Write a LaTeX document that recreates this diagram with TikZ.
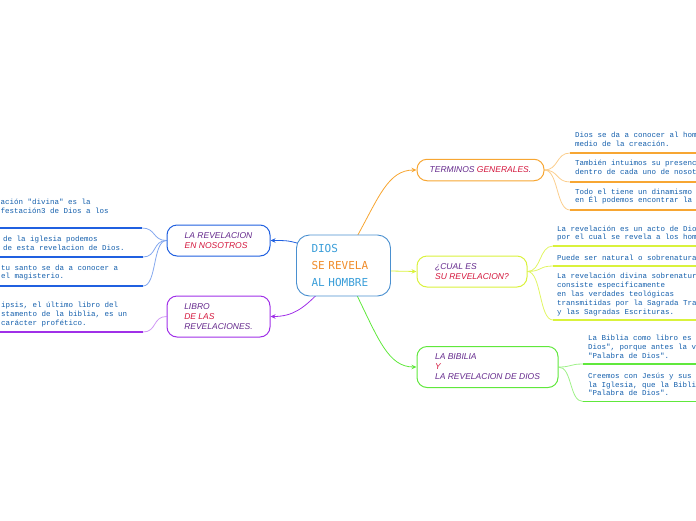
\documentclass[tikz,border=0pt]{standalone}
\usepackage{fontspec}
\setmainfont{Liberation Sans}
\newfontfamily\monofnt{Liberation Mono}
\newfontfamily\pixfnt{DejaVu Sans Mono}
\usetikzlibrary{arrows.meta,backgrounds}
\definecolor{cblue}{RGB}{74,144,208}
\definecolor{ctxtblue}{RGB}{58,158,217}
\definecolor{corange}{RGB}{240,140,42}
\definecolor{cpurple}{RGB}{100,40,140}
\definecolor{cred}{RGB}{212,22,60}
\definecolor{subtxt}{RGB}{20,95,172}
\definecolor{lorange}{RGB}{247,166,50}
\definecolor{lyellow}{RGB}{218,242,60}
\definecolor{lgreen}{RGB}{96,232,60}
\definecolor{lblue}{RGB}{32,96,224}
\definecolor{lpurple}{RGB}{160,48,232}
\tikzset{
  topic/.style={draw, line width=1pt, rounded corners=10pt, fill=white, align=left,
    font=\itshape\fontsize{8.5}{10}\selectfont, text=cpurple, inner sep=0pt},
  subtext/.style={anchor=west, align=left, font=\monofnt\fontsize{7.5}{8.8}\selectfont,
    text=subtxt, inner sep=0pt},
  uline/.style={line width=1.7pt},
  conn/.style={line width=0.8pt},
  mainarrow/.style={line width=0.8pt, -{Stealth[length=5pt,width=4.5pt]}}
}
\begin{document}
\begin{tikzpicture}[x=1pt,y=-1pt]
\useasboundingbox (0,0) rectangle (696,520);

% central node
\node[draw=cblue, line width=0.9pt, rounded corners=13pt, fill=white,
  minimum width=94pt, minimum height=61pt, align=left, text width=64pt, inner sep=0pt,
  font=\pixfnt\fontsize{11}{16.6}\selectfont] (C) at (343.5,265.5)
  {\textcolor{ctxtblue}{DIOS}\\\textcolor{corange}{SE REVELA}\\\textcolor{ctxtblue}{AL HOMBRE}};

% topics
\node[topic, draw=lorange, minimum width=127pt, minimum height=21.5pt] (T1) at (480.5,170)
  {TERMINOS \textcolor{cred}{GENERALES}.};
\node[topic, draw=lyellow, minimum width=110pt, minimum height=31pt] (T2) at (472,271.5)
  {¿CUAL ES\\\textcolor{cred}{SU REVELACION?}};
\node[topic, draw=lgreen, minimum width=141pt, minimum height=41pt] (T3) at (487.5,367)
  {LA BIBILIA\\\textcolor{cred}{Y}\\LA REVELACION DE DIOS};
\node[topic, draw=lblue, minimum width=103pt, minimum height=31pt] (T4) at (218.5,240.5)
  {LA REVELACION\\\textcolor{cred}{EN NOSOTROS}};
\node[topic, draw=lpurple, minimum width=103pt, minimum height=41pt] (T5) at (218.5,316.5)
  {LIBRO\\\textcolor{cred}{DE LAS}\\REVELACIONES.};

% sub texts
\node[subtext] (s11) at (575,139.5) {Dios se da a conocer al hom\\medio de la creación.};
\node[subtext] (s12) at (575,167.5) {También intuimos su presenc\\dentro de cada uno de nosot};
\node[subtext] (s13) at (575,196.5) {Todo el tiene un dinamismo\\en Él podemos encontrar la};
\node[subtext] (s21) at (557,233.5) {La revelación es un acto de Dio\\por el cual se revela a los hom};
\node[subtext] (s22) at (557,258) {Puede ser natural o sobrenatura};
\node[subtext] (s23) at (557,294.5) {La revelación divina sobrenatur\\consiste especificamente\\en las verdades teológicas\\transmitidas por la Sagrada Tra\\y las Sagradas Escrituras.};
\node[subtext] (s31) at (588,347) {La Biblia como libro es\\Dios", porque antes la v\\"Palabra de Dios".};
\node[subtext] (s32) at (588,384.5) {Creemos con Jesús y sus\\la Iglesia, que la Bibli\\"Palabra de Dios".};
\node[subtext] (s41) at (0.5,206) {ación "divina" es la\\festación3 de Dios a los};
\node[subtext] (s42) at (3,243.5) {de la iglesia podemos\\de esta revelacion de Dios.};
\node[subtext] (s43) at (1,272.5) {tu santo se da a conocer a\\el magisterio.};
\node[subtext] (s51) at (1,314.5) {ipsis, el último libro del\\stamento de la biblia, es un\\carácter profético.};

% underline coordinates
\coordinate (a11) at (570,153);   \coordinate (b11) at (700,153);
\coordinate (a12) at (570,182);   \coordinate (b12) at (700,182);
\coordinate (a13) at (570,210);   \coordinate (b13) at (700,210);
\coordinate (a21) at (553,246);   \coordinate (b21) at (700,246);
\coordinate (a22) at (553,266);   \coordinate (b22) at (700,266);
\coordinate (a23) at (553,320);   \coordinate (b23) at (700,320);
\coordinate (a31) at (583,364);   \coordinate (b31) at (700,364);
\coordinate (a32) at (583,401.5); \coordinate (b32) at (700,401.5);
\coordinate (a41) at (142,228);   \coordinate (b41) at (-5,228);
\coordinate (a42) at (143,257);   \coordinate (b42) at (-5,257);
\coordinate (a43) at (143,286);   \coordinate (b43) at (-5,286);
\coordinate (a51) at (143,332);   \coordinate (b51) at (-5,332);

\begin{scope}[on background layer]
% main connectors
\draw[mainarrow, lorange] ([xshift=13.5pt,yshift=-2pt]C.north) .. controls +(22,-40) and +(-28,0) .. (T1.west);
\draw[mainarrow, lyellow] ([yshift=-5.5pt]C.east) -- (T2.west);
\draw[mainarrow, lgreen] ([xshift=13pt,yshift=2pt]C.south) .. controls +(22,45) and +(-28,0) .. (T3.west);
\draw[mainarrow, lblue] ([xshift=4pt,yshift=21.5pt]C.west) .. controls +(-12,-4) and +(12,0) .. (T4.east);
\draw[mainarrow, lpurple] ([xshift=-26.5pt,yshift=2pt]C.south) .. controls +(-14,14) and +(22,0) .. (T5.east);
% sub connectors
\foreach \t/\s in {T1/11,T1/12,T1/13} {
  \draw[conn, lorange!55] (\t.east) .. controls +(14,0) and +(-14,0) .. (a\s);
  \draw[uline, lorange] (a\s) -- (b\s);}
\foreach \t/\s in {T2/21,T2/22,T2/23} {
  \draw[conn, lyellow!80!white] (\t.east) .. controls +(14,0) and +(-14,0) .. (a\s);
  \draw[uline, lyellow] (a\s) -- (b\s);}
\foreach \t/\s in {T3/31,T3/32} {
  \draw[conn, lgreen!60] (\t.east) .. controls +(14,0) and +(-14,0) .. (a\s);
  \draw[uline, lgreen] (a\s) -- (b\s);}
\foreach \t/\s in {T4/41,T4/42,T4/43} {
  \draw[conn, lblue!55] (\t.west) .. controls +(-14,0) and +(14,0) .. (a\s);
  \draw[uline, lblue] (a\s) -- (b\s);}
\draw[conn, lpurple!50] (T5.west) .. controls +(-14,0) and +(14,0) .. (a51);
\draw[uline, lpurple] (a51) -- (b51);
\end{scope}
\end{tikzpicture}
\end{document}
